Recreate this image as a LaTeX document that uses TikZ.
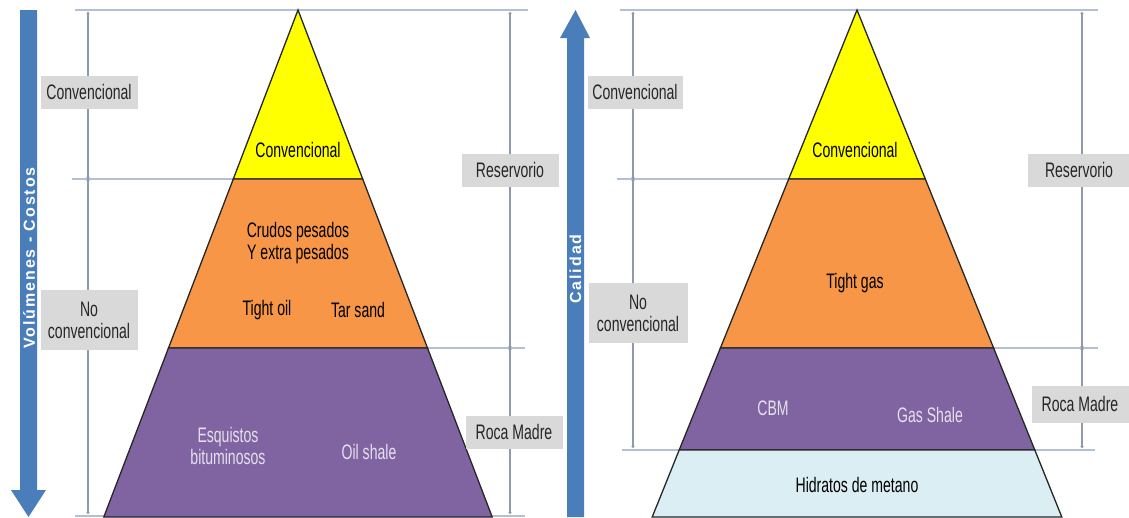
\documentclass[tikz,border=0pt]{standalone}
\usepackage{fontspec}
\setmainfont{Liberation Sans}
\newfontfamily\narrowfont[FakeStretch=0.67]{Liberation Sans}
\newfontfamily\spacedfont[LetterSpace=12]{Liberation Sans}
\usetikzlibrary{arrows.meta}
\definecolor{amarillo}{HTML}{FFFF00}
\definecolor{naranja}{HTML}{F79646}
\definecolor{morado}{HTML}{8064A2}
\definecolor{celeste}{HTML}{DBEEF4}
\definecolor{lila}{HTML}{E6E0EE}
\definecolor{azul}{HTML}{4A7EBB}
\definecolor{cajagris}{HTML}{D9D9D9}
\definecolor{guiagris}{HTML}{B3BFD3}

\begin{document}
\begin{tikzpicture}[x=1pt,y=-1pt,
  guia/.style={draw=guiagris,line width=1.2pt},
  cota/.style={draw=guiagris!80!black,line width=1.1pt,{Circle[length=3pt]}-{Circle[length=3pt]}},
  etiq/.style={fill=cajagris,text=black!85,font=\narrowfont\fontsize{21}{22}\selectfont,
    minimum width=97pt,minimum height=33pt,inner sep=2pt,align=center},
  capa/.style={draw=black!85,line width=1.3pt},
  rotulo/.style={font=\narrowfont\fontsize{21}{22}\selectfont,align=center},
  flecha/.style={fill=azul},
  eje/.style={rotate=90,text=white,font=\spacedfont\bfseries\fontsize{16}{18}\selectfont}]
\useasboundingbox (0,0) rectangle (1129,517);

% ---- guias horizontales
\draw[guia] (75,10) -- (528,10);
\draw[guia] (72,179) -- (233,179);
\draw[guia] (428,348) -- (525,348);
\draw[guia] (75,516) -- (104,516);
\draw[guia] (492,516) -- (525,516);
\draw[guia] (620,10) -- (1098,10);
\draw[guia] (617,179) -- (789,179);
\draw[guia] (994,348) -- (1098,348);
\draw[guia] (622,450) -- (679,450);
\draw[guia] (1035,450) -- (1095,450);

% ---- cotas
\coordinate (la) at (88,12);  \coordinate (lb) at (88,179); \coordinate (lc) at (88,514);
\coordinate (ra) at (510,12); \coordinate (rb) at (510,348); \coordinate (rc) at (510,514);
\coordinate (ma) at (633,12); \coordinate (mb) at (633,179); \coordinate (mc) at (633,448);
\coordinate (na) at (1082,12); \coordinate (nb) at (1082,348); \coordinate (nc) at (1082,448);
\draw[cota] (la) -- ([yshift=-3pt]lb);
\draw[cota] ([yshift=3pt]lb) -- (lc);
\draw[cota] (ra) -- ([yshift=-3pt]rb);
\draw[cota] ([yshift=3pt]rb) -- (rc);
\draw[cota] (ma) -- ([yshift=-3pt]mb);
\draw[cota] ([yshift=3pt]mb) -- (mc);
\draw[cota] (na) -- ([yshift=-3pt]nb);
\draw[cota] ([yshift=3pt]nb) -- (nc);

% ---- piramide izquierda (petroleo)
\draw[capa,fill=amarillo] (298,10) -- (362.7,179) -- (233.3,179) -- cycle;
\draw[capa,fill=naranja] (233.3,179) -- (362.7,179) -- (427.5,348) -- (168.5,348) -- cycle;
\draw[capa,fill=morado] (168.5,348) -- (427.5,348) -- (492.2,517) -- (103.8,517) -- cycle;

% ---- piramide derecha (gas)
\draw[capa,fill=amarillo] (857,10) -- (925.3,179) -- (788.7,179) -- cycle;
\draw[capa,fill=naranja] (788.7,179) -- (925.3,179) -- (993.6,348) -- (720.4,348) -- cycle;
\draw[capa,fill=morado] (720.4,348) -- (993.6,348) -- (1034.8,450) -- (679.2,450) -- cycle;
\draw[capa,fill=celeste] (679.2,450) -- (1034.8,450) -- (1061.8,517) -- (652.2,517) -- cycle;

% ---- flechas de los ejes
\fill[flecha] (20,10) -- (37,10) -- (37,490) -- (46,490) -- (28.5,517) -- (11,490) -- (20,490) -- cycle;
\fill[flecha] (567,517) -- (567,38) -- (560,38) -- (575.5,10) -- (590,38) -- (584,38) -- (584,517) -- cycle;
\node[eje] (volumen) at (29,258) {Volúmenes - Costos};
\node[eje] (calidad) at (575.5,269) {Calidad};

% ---- etiquetas laterales
\node[etiq] (convL) at (89,92) {Convencional};
\node[etiq,minimum height=60pt] (noconvL) at (89,320) {No\\convencional};
\node[etiq] (resL) at (510,170) {Reservorio};
\node[etiq] (rocaL) at (514,432) {Roca Madre};
\node[etiq,minimum width=95pt] (convR) at (635,92) {Convencional};
\node[etiq,minimum height=60pt,minimum width=99pt] (noconvR) at (638,313) {No\\convencional};
\node[etiq,minimum width=102pt] (resR) at (1079,170) {Reservorio};
\node[etiq,minimum height=37pt] (rocaR) at (1080,404) {Roca Madre};

% ---- textos de las capas
\node[rotulo] (convP) at (298,150) {Convencional};
\node[rotulo] (crudos) at (298,243) {Crudos pesados\\Y extra pesados};
\node[rotulo] (tightoil) at (267,310) {Tight oil};
\node[rotulo] (tarsand) at (358,310) {Tar sand};
\node[rotulo,text=lila] (esquistos) at (228,446) {Esquistos\\bituminosos};
\node[rotulo,text=lila] (oilshale) at (369,452) {Oil shale};
\node[rotulo] (convG) at (855,150) {Convencional};
\node[rotulo] (tightgas) at (855,283) {Tight gas};
\node[rotulo,text=lila] (cbm) at (773,408) {CBM};
\node[rotulo,text=lila] (gasshale) at (930,415) {Gas Shale};
\node[rotulo] (hidratos) at (857,485) {Hidratos de metano};
\end{tikzpicture}
\end{document}
